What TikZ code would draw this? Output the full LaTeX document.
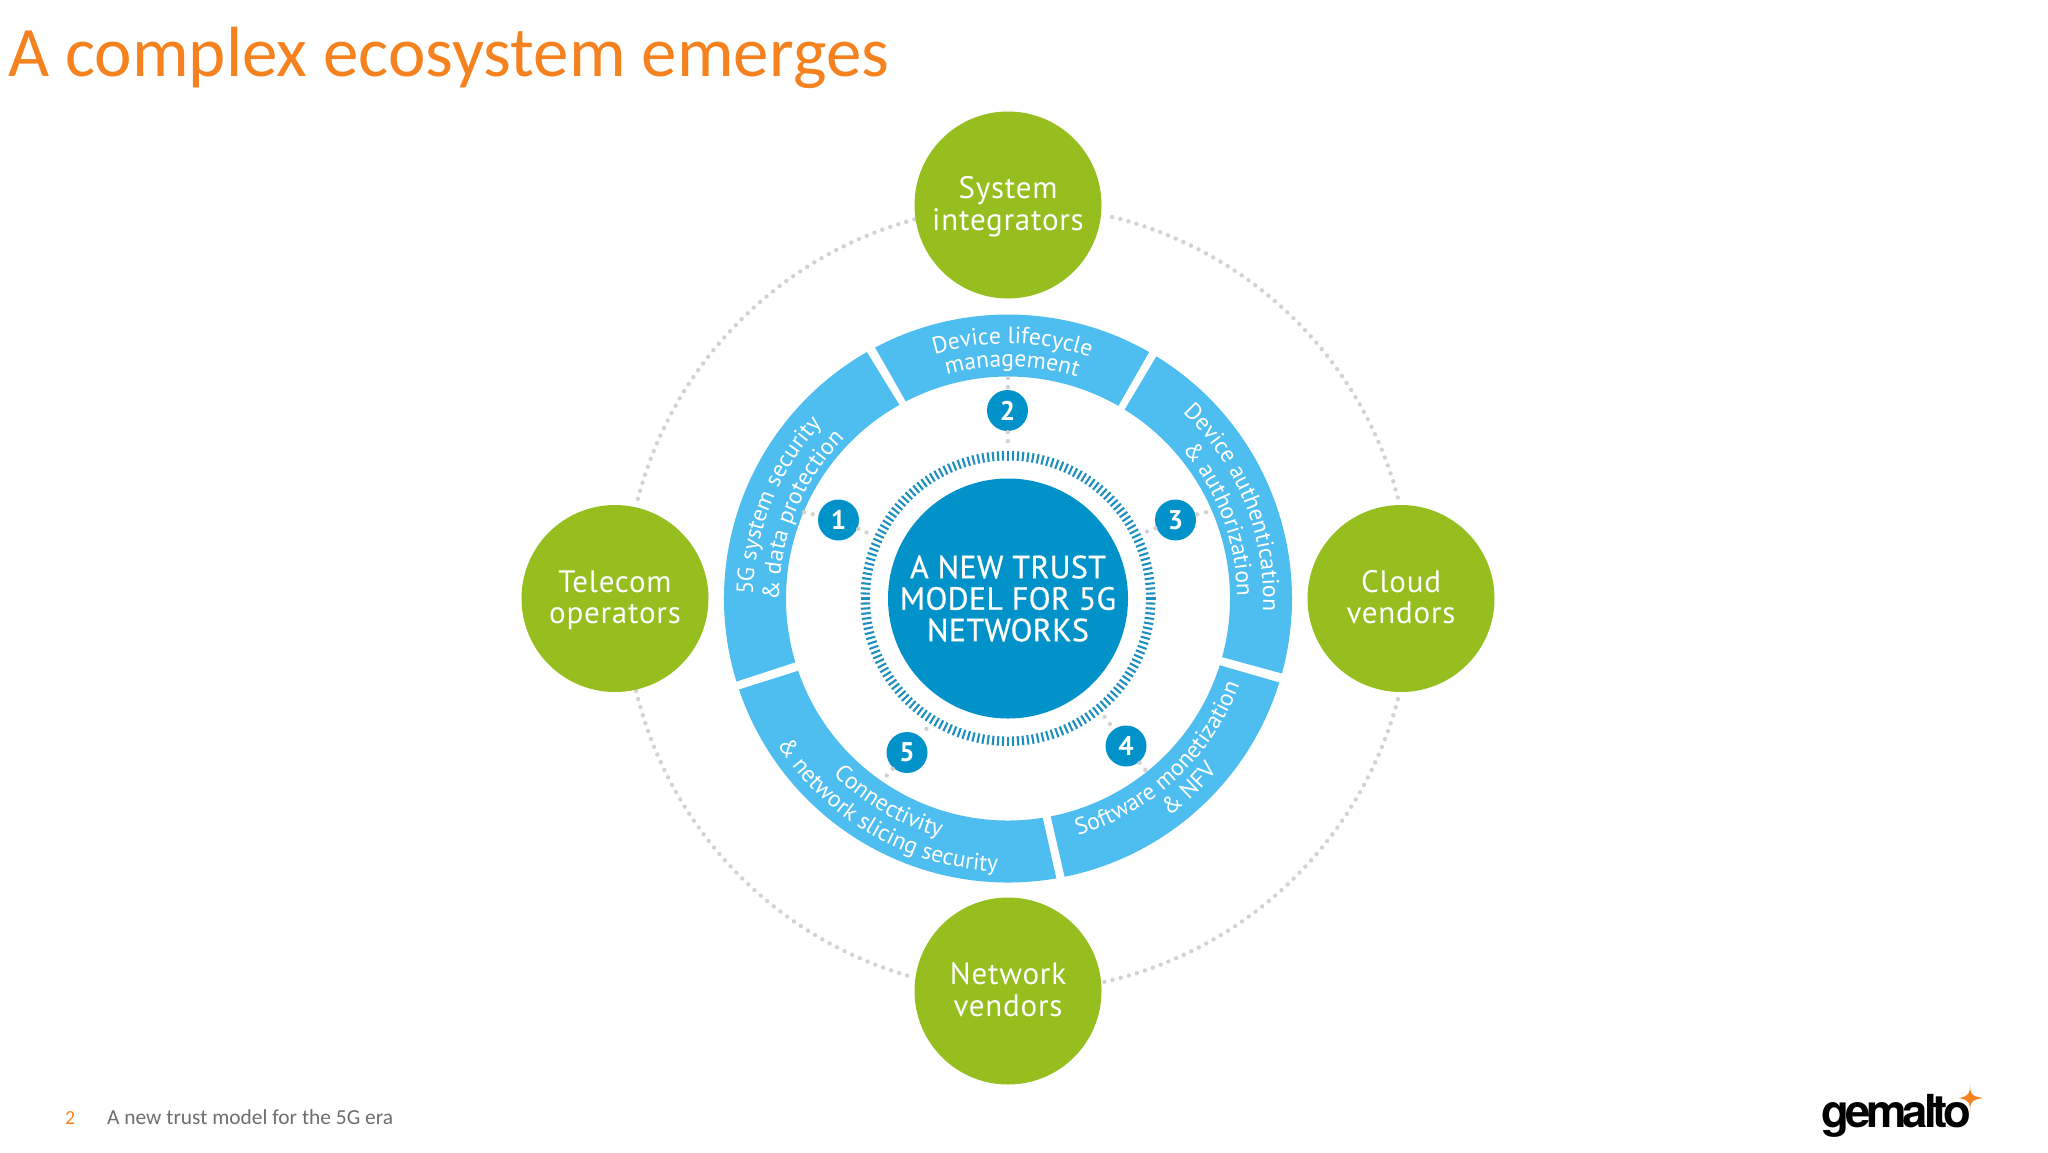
\documentclass[tikz,border=0pt]{standalone}
\usepackage{fontspec}
\usetikzlibrary{decorations.text}
\setmainfont{Carlito}
\newfontfamily\din{PT Sans}
\newfontfamily\dinwide[LetterSpace=2.5]{PT Sans}
\newfontfamily\dinmed[FakeBold=0.6,LetterSpace=1]{PT Sans}
\newfontfamily\logofont[LetterSpace=-9]{TeX Gyre Heros}
\definecolor{grn}{HTML}{95BE1E}
\definecolor{lblue}{HTML}{4EBDEF}
\definecolor{dblue}{HTML}{0092C8}
\definecolor{tickc}{HTML}{1C8FBE}
\definecolor{orng}{HTML}{F5821F}
\definecolor{dotc}{HTML}{D2D2D2}
\definecolor{foot}{HTML}{6E6E6E}
\newcommand\segfont{\din\fontsize{23.6}{23.6}\selectfont\color{white}}
\newcommand\firstline{\rule{0pt}{28pt}}
% outer a1..a2, inner b1..b2
\newcommand\ringseg[4]{\fill[lblue] ([shift={(c)}]#1:284pt) arc[start angle=#1,end angle=#2,radius=284pt] -- ([shift={(c)}]#4:222pt) arc[start angle=#4,end angle=#3,radius=222pt] -- cycle;}
% centre angle, radius, text: clockwise (letters' tops outward)
\newcommand\cwtext[3]{\path[decorate,decoration={text along path,text align=center,text={|\segfont|#3}}] ([shift={(c)}]#1+45:#2 pt) arc[start angle=#1+45,end angle=#1-45,radius=#2 pt];}
% counter-clockwise (letters' tops inward)
\newcommand\ccwtext[3]{\path[decorate,decoration={text along path,text align=center,text={|\segfont|#3}}] ([shift={(c)}]#1-45:#2 pt) arc[start angle=#1-45,end angle=#1+45,radius=#2 pt];}
\tikzset{
  party/.style={circle,fill=grn,minimum size=187pt,inner sep=0pt,text=white,align=center,font=\dinwide\fontsize{31}{31.5}\selectfont},
  badge/.style={circle,fill=dblue,minimum size=41pt,inner sep=0pt,text=white,font=\din\bfseries\fontsize{27}{27}\selectfont},
  ringdots/.style={draw=dotc,line width=4.4pt,line cap=round,dash pattern=on 0pt off 8.4pt},
  spoke/.style={draw=dotc,line width=4.4pt,line cap=round,dash pattern=on 0pt off 9pt,shorten <=1pt,shorten >=1pt},
}
\begin{document}
\begin{tikzpicture}[x=1pt,y=1pt]
\useasboundingbox (0,0) rectangle (2048,-1152);
\coordinate (c) at (1008,-598.5);
\coordinate (rc) at (1018,-598.5);
% title and footer
\node[anchor=base west,inner sep=0pt,text=orng,font=\fontsize{71}{71}\selectfont] (title) at (8,-76) {A complex ecosystem emerges};
\node[anchor=base west,inner sep=0pt,text=orng,font=\fontsize{20}{20}\selectfont] (pageno) at (65,-1124) {2};
\node[anchor=base west,inner sep=0pt,text=foot,font=\fontsize{21.4}{21.4}\selectfont] (foottext) at (107,-1124) {A new trust model for the 5G era};
% logo
\node[anchor=base west,inner sep=0pt,text=black,font=\logofont\bfseries\fontsize{45.5}{46}\selectfont] (logo) at (1821,-1127) {gemalto};
\fill[orng] (1970,-1084) .. controls (1970,-1094) and (1971,-1096) .. (1983,-1098) .. controls (1971,-1100) and (1970,-1102) .. (1970,-1113) .. controls (1970,-1102) and (1969,-1100) .. (1959,-1098) .. controls (1969,-1096) and (1970,-1094) .. (1970,-1084) -- cycle;
% outer dotted ring
\foreach \a/\b in {14.9/76.9,105.3/166.2,193.6/254.5,282.7/345.7}{
  \draw[ringdots] ([shift={(rc)}]\a:393pt) arc[start angle=\a,end angle=\b,radius=393pt];
}
% parties
\node[party] (sys) at (1008,-205) {\firstline System\\\strut integrators};
\node[party] (tel) at (615,-598.5) {\firstline Telecom\\\strut operators};
\node[party] (cld) at (1401,-598.5) {\firstline Cloud\\\strut vendors};
\node[party] (net) at (1008,-991) {\firstline Network\\\strut vendors};
% segments
\ringseg{119.8}{197}{119.3}{196.7}
\ringseg{60.2}{117.9}{60.2}{117.4}
\ringseg{-15.3}{58.5}{-15.3}{58.3}
\ringseg{-78.5}{-17.2}{-78.9}{-17.5}
\ringseg{198.7}{279.8}{199}{279}
% segment labels
\cwtext{158}{255}{5G system security}
\cwtext{158}{229}{{\&} data protection}
\cwtext{89}{255}{Device lifecycle}
\cwtext{89}{232}{management}
\cwtext{22}{255}{Device authentication}
\cwtext{20.5}{229}{{\&} authorization}
\ccwtext{-47}{247}{Software monetization}
\ccwtext{-46.5}{271}{{\&} NFV}
\ccwtext{239.6}{248}{Connectivity}
\ccwtext{240}{273}{{\&} network slicing security}
% centre
\node[circle,fill=dblue,minimum size=240pt,inner sep=0pt,text=white,align=center,font=\dinmed\fontsize{32}{31.5}\selectfont] (core) at (c) {A NEW TRUST\\MODEL FOR 5G\\NETWORKS};
\foreach \t in {0,2,...,358}{
  \draw[tickc,line width=2.1pt] ([shift={(c)}]\t:138pt) -- ([shift={(c)}]\t:147.5pt);
}
% badges
\node[badge] (b1) at (838.5,-520) {1};
\node[badge] (b2) at (1007.5,-410.5) {2};
\node[badge] (b3) at (1175.5,-520) {3};
\node[badge] (b4) at (1126,-746) {4};
\node[badge] (b5) at (907,-752.5) {5};
\coordinate (s1a) at (803,-512); \coordinate (s1b) at (870,-534);
\coordinate (s2a) at (1008,-377); \coordinate (s2b) at (1008,-449);
\coordinate (s3a) at (1207,-512); \coordinate (s3b) at (1146,-532);
\coordinate (s4a) at (1104,-716); \coordinate (s4b) at (1147,-772);
\coordinate (s5a) at (927,-728); \coordinate (s5b) at (881,-782);
\foreach \n in {1,...,5}{
  \draw[spoke] (s\n a) -- (b\n);
  \draw[spoke] (b\n) -- (s\n b);
}
\end{tikzpicture}
\end{document}
